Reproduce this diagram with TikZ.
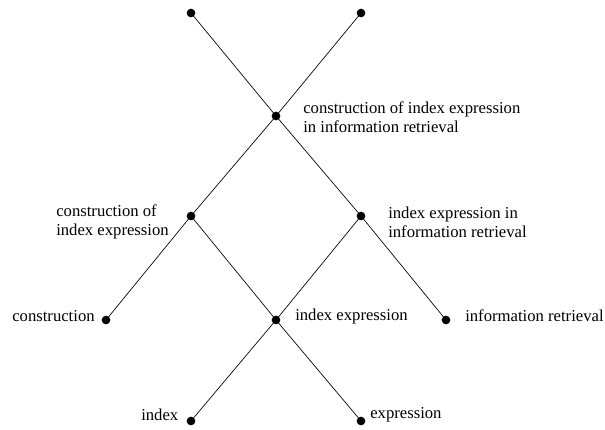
\documentclass[tikz,border=0pt]{standalone}
\usepackage{fontspec}
\setmainfont{Liberation Serif}
\begin{document}
\begin{tikzpicture}[x=0.75pt,y=-0.75pt,
  dot/.style={circle,fill=black,inner sep=0pt,minimum size=6.5pt},
  lbl/.style={font=\fontsize{12.5}{14}\selectfont,inner sep=0pt,align=left},
  edge/.style={line width=0.5pt}]
\useasboundingbox (0,0) rectangle (605,429);
\node[dot] (tl) at (191,13) {};
\node[dot] (tr) at (361,13) {};
\node[dot] (c) at (276,116) {};
\node[dot] (lm) at (191,216) {};
\node[dot] (rm) at (361,216) {};
\node[dot] (con) at (106,320) {};
\node[dot] (ie) at (276,320) {};
\node[dot] (ir) at (446,320) {};
\node[dot] (idx) at (191,421) {};
\node[dot] (ex) at (361,421) {};
\draw[edge] (tl.center) -- (c.center) -- (rm.center) -- (ir.center);
\draw[edge] (tr.center) -- (c.center) -- (lm.center) -- (con.center);
\draw[edge] (lm.center) -- (ie.center) -- (ex.center);
\draw[edge] (rm.center) -- (ie.center) -- (idx.center);
\node[lbl,anchor=west] (tc) at (303,117) {construction of index expression\\in information retrieval};
\node[lbl,anchor=west] (tlm) at (56,222) {construction of\\index expression};
\node[lbl,anchor=west] (trm) at (388,222) {index expression in\\information retrieval};
\node[lbl,anchor=west] (tcon) at (12,316) {construction};
\node[lbl,anchor=west] (tie) at (295,316) {index expression};
\node[lbl,anchor=west] (tir) at (465,316) {information retrieval};
\node[lbl,anchor=west] (tidx) at (141,415) {index};
\node[lbl,anchor=west] (tex) at (370,415) {expression};
\end{tikzpicture}
\end{document}
